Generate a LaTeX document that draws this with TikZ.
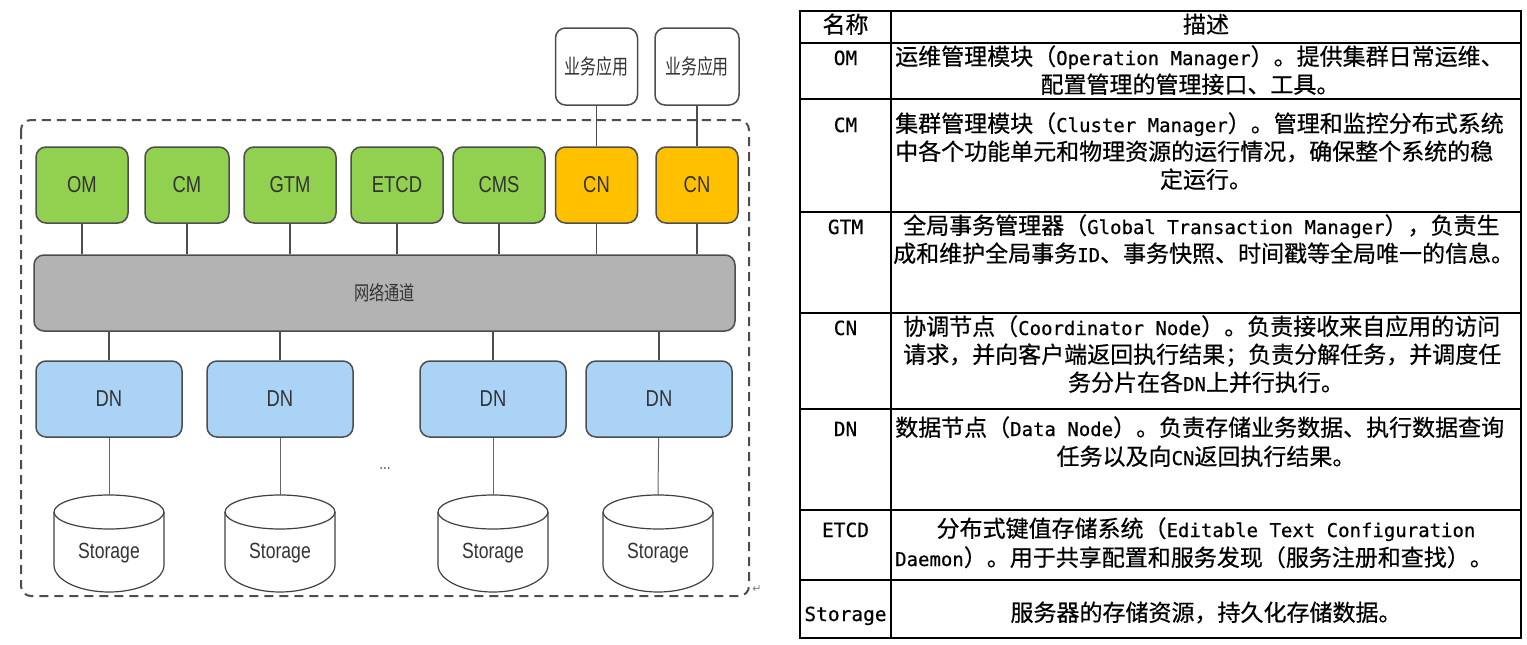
\documentclass[tikz,border=0pt]{standalone}
\usepackage{fontspec}
\usetikzlibrary{calc}

\newfontfamily\boxfont[FakeStretch=0.8]{Liberation Sans}
\newfontfamily\boxcjk[FakeStretch=0.76]{Noto Sans CJK SC}
\newfontfamily\tabcjk[FakeBold=0.5]{Noto Sans CJK SC}
\newfontfamily\tabmono[FakeBold=0.5]{DejaVu Sans Mono}
\newfontfamily\symfont{DejaVu Sans}
\newcommand{\lat}[1]{{\tabmono\fontsize{19}{23}\selectfont #1}}

\definecolor{modgreen}{HTML}{92D050}
\definecolor{cnorange}{HTML}{FFC000}
\definecolor{dnblue}{HTML}{ABD3F5}
\definecolor{busgray}{HTML}{B3B3B3}
\definecolor{edgegray}{HTML}{4D4D4D}

\tikzset{
  box/.style={draw=edgegray, line width=1.5pt, rounded corners=10pt, minimum height=76pt,
    inner sep=0pt, text=black!80, font=\boxfont\fontsize{23}{23}\selectfont},
  modbox/.style={box, fill=modgreen, minimum width=92pt},
  cnbox/.style={box, fill=cnorange, minimum width=82pt},
  appbox/.style={box, fill=white, minimum width=82pt, minimum height=77pt,
    font=\boxcjk\fontsize{21}{21}\selectfont},
  dnbox/.style={box, fill=dnblue, minimum width=146pt},
  link/.style={draw=edgegray, line width=1.4pt},
  thinlink/.style={draw=black!60, line width=1pt},
  can/.style={draw=black!75, line width=1.2pt},
  canlabel/.style={font=\boxfont\fontsize{22}{22}\selectfont, text=black!80},
  tabline/.style={draw=black, line width=1.6pt},
  cell/.style={inner sep=0pt, anchor=base, yshift=-8pt, font=\tabcjk\fontsize{23}{28}\selectfont},
  namecell/.style={inner sep=0pt, anchor=base, yshift=-8pt, font=\tabmono\fontsize{19.5}{23}\selectfont}
}

\begin{document}
\begin{tikzpicture}[x=1pt, y=-1pt]
  \useasboundingbox (0,0) rectangle (1527,645);
  % cluster frame
  \draw[edgegray, line width=2pt, dash pattern=on 9pt off 6pt, rounded corners=10pt] (21,120) rectangle (749,596);
  \node[text=black!50, font=\symfont\fontsize{11}{11}\selectfont] (mark) at (757,589) {↵};

  \node[appbox] (app1) at (596.5,66.5) {业务应用};
  \node[appbox, minimum width=84pt] (app2) at (697,66.5) {业务应用};

  \node[modbox] (om) at (82,185) {OM};
  \node[modbox, minimum width=84pt] (cm) at (187,185) {CM};
  \node[modbox] (gtm) at (290,185) {GTM};
  \node[modbox] (etcd) at (397,185) {ETCD};
  \node[modbox] (cms) at (499,185) {CMS};
  \node[cnbox] (cn1) at (596.5,185) {CN};
  \node[cnbox] (cn2) at (697,185) {CN};

  \node[box, fill=busgray, minimum width=701pt, font=\boxcjk\fontsize{20}{20}\selectfont] (bus) at (384.5,293) {网络通道};

  \node[dnbox] (dn1) at (109,399) {DN};
  \node[dnbox] (dn2) at (280,399) {DN};
  \node[dnbox] (dn3) at (493,399) {DN};
  \node[dnbox] (dn4) at (659,399) {DN};
  \node[text=black!70, font=\boxfont\fontsize{17}{17}\selectfont] (more) at (385,469) {...};

  % storage cans
  \foreach \cx in {109,280,493,658}{
    \draw[can] (\cx-55,512) -- (\cx-55,565) arc[start angle=180, end angle=0, x radius=55, y radius=27] -- (\cx+55,512);
    \draw[can] (\cx,512) ellipse[x radius=55, y radius=17];
  }
  \node[canlabel] (st1) at (109,553) {Storage};
  \node[canlabel] (st2) at (280,553) {Storage};
  \node[canlabel] (st3) at (493,553) {Storage};
  \node[canlabel] (st4) at (658,553) {Storage};
  \coordinate (st1top) at (109,495);
  \coordinate (st2top) at (280,495);
  \coordinate (st3top) at (493,495);
  \coordinate (st4top) at (658,495);

  % links
  \draw[link] (app1) -- (cn1);
  \draw[link] (app2) -- (cn2);
  \draw[link] (om) -- (om |- bus.north);
  \draw[link] (cm) -- (cm |- bus.north);
  \draw[link] (gtm) -- (gtm |- bus.north);
  \draw[link] (etcd) -- (etcd |- bus.north);
  \draw[link] (cms) -- (cms |- bus.north);
  \draw[link] (cn1) -- (cn1 |- bus.north);
  \draw[link] (cn2) -- (cn2 |- bus.north);
  \draw[link] (dn1) -- (dn1 |- bus.south);
  \draw[link] (dn2) -- (dn2 |- bus.south);
  \draw[link] (dn3) -- (dn3 |- bus.south);
  \draw[link] (dn4) -- (dn4 |- bus.south);
  \draw[thinlink] (dn1) -- (st1top);
  \draw[thinlink] (dn2) -- (st2top);
  \draw[thinlink] (dn3) -- (st3top);
  \draw[thinlink] (dn4) -- (st4top);

  % table
  \draw[tabline] (800,11) rectangle (1521,638);
  \draw[tabline] (891,11) -- (891,638);
  \foreach \ry in {43,99,212,313,409,510,580}
    \draw[tabline] (800,\ry) -- (1521,\ry);

  \node[cell] (hname) at (845.5,25) {名称};
  \node[cell] (hdesc) at (1206,25) {描述};

  \node[namecell] (tom) at (845.5,57) {OM};
  \node[cell, anchor=base west] (om1) at (895,57) {运维管理模块（\lat{Operation Manager}）。提供集群日常运维、};
  \node[cell] (om2) at (1190,85) {配置管理的管理接口、工具。};

  \node[namecell] (tcm) at (845.5,124) {CM};
  \node[cell, anchor=base west] (cm1) at (895,124) {集群管理模块（\lat{Cluster Manager}）。管理和监控分布式系统};
  \node[cell, anchor=base west] (cm2) at (895,152) {中各个功能单元和物理资源的运行情况，确保整个系统的稳};
  \node[cell] (cm3) at (1206,180) {定运行。};

  \node[namecell] (tgtm) at (845.5,226) {GTM};
  \node[cell, anchor=base west] (gtm1) at (903,226) {全局事务管理器（\lat{Global Transaction Manager}），负责生};
  \node[cell, anchor=base west] (gtm2) at (893,254) {成和维护全局事务\lat{ID}、事务快照、时间戳等全局唯一的信息。};

  \node[namecell] (tcn) at (845.5,327) {CN};
  \node[cell, anchor=base west] (cnd1) at (903,327) {协调节点（\lat{Coordinator Node}）。负责接收来自应用的访问};
  \node[cell, anchor=base west] (cnd2) at (903,355) {请求，并向客户端返回执行结果；负责分解任务，并调度任};
  \node[cell] (cnd3) at (1206,383) {务分片在各\lat{DN}上并行执行。};

  \node[namecell] (tdn) at (845.5,428) {DN};
  \node[cell, anchor=base west] (dnd1) at (895,428) {数据节点（\lat{Data Node}）。负责存储业务数据、执行数据查询};
  \node[cell] (dnd2) at (1206,457) {任务以及向\lat{CN}返回执行结果。};

  \node[namecell] (tetcd) at (845.5,529) {ETCD};
  \node[cell] (etcdd1) at (1206,529) {分布式键值存储系统（\lat{Editable Text Configuration}};
  \node[cell, anchor=base west] (etcdd2) at (895,558) {\lat{Daemon}）。用于共享配置和服务发现（服务注册和查找）。};

  \node[namecell] (tst) at (845.5,613) {Storage};
  \node[cell] (std) at (1206,613) {服务器的存储资源，持久化存储数据。};
\end{tikzpicture}
\end{document}
